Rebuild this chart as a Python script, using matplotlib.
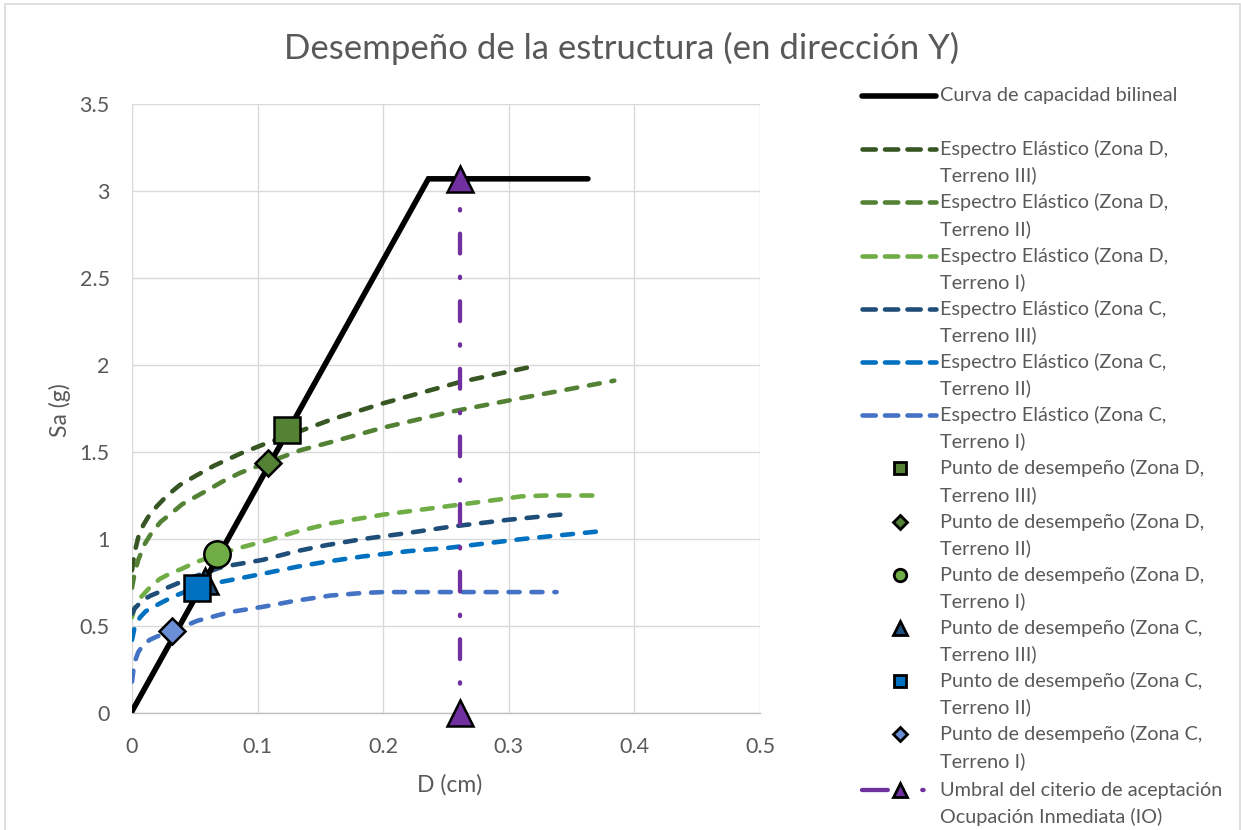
import matplotlib
matplotlib.use("Agg")
import matplotlib.pyplot as plt
from matplotlib.lines import Line2D
from matplotlib.patches import Rectangle

# ---------------- data ----------------
title = "Desempeño de la estructura (en dirección Y)"
x_label = "D (cm)"
y_label = "Sa (g)"
x_ticks = [0, 0.1, 0.2, 0.3, 0.4, 0.5]
y_ticks = [0, 0.5, 1, 1.5, 2, 2.5, 3, 3.5]

bilinear_x = [0, 0.236, 0.363]
bilinear_y = [0.01, 3.07, 3.07]

dIII_x = [0, 0.002, 0.005, 0.009, 0.014, 0.02, 0.028, 0.038, 0.05, 0.065, 0.086, 0.107, 0.13, 0.16, 0.2, 0.26, 0.318]
dIII_y = [0.82, 0.92, 1.01, 1.08, 1.14, 1.19, 1.25, 1.31, 1.36, 1.42, 1.49, 1.55, 1.61, 1.69, 1.78, 1.90, 1.99]

dII_x = [0, 0.002, 0.005, 0.01, 0.016, 0.023, 0.03, 0.04, 0.05, 0.06, 0.072, 0.086, 0.108, 0.134, 0.16, 0.2, 0.253, 0.31, 0.384]
dII_y = [0.72, 0.80, 0.88, 0.97, 1.04, 1.10, 1.14, 1.20, 1.24, 1.28, 1.33, 1.38, 1.44, 1.51, 1.56, 1.64, 1.73, 1.81, 1.91]

dI_x = [0, 0.002, 0.0064, 0.014, 0.022, 0.03, 0.04, 0.052, 0.068, 0.086, 0.107, 0.13, 0.158, 0.2, 0.253, 0.29, 0.31, 0.33, 0.37]
dI_y = [0.55, 0.60, 0.66, 0.72, 0.77, 0.80, 0.83, 0.87, 0.91, 0.95, 0.99, 1.04, 1.09, 1.14, 1.19, 1.225, 1.245, 1.25, 1.25]

cIII_x = [0, 0.002, 0.0088, 0.015, 0.02, 0.028, 0.038, 0.048, 0.06, 0.072, 0.088, 0.104, 0.131, 0.155, 0.184, 0.22, 0.253, 0.299, 0.341]
cIII_y = [0.57, 0.60, 0.65, 0.675, 0.69, 0.72, 0.75, 0.78, 0.81, 0.84, 0.86, 0.88, 0.93, 0.965, 1.00, 1.035, 1.07, 1.11, 1.14]

cII_x = [0, 0.002, 0.0064, 0.011, 0.017, 0.025, 0.033, 0.042, 0.052, 0.072, 0.09, 0.104, 0.131, 0.155, 0.184, 0.22, 0.253, 0.311, 0.375]
cII_y = [0.42, 0.49, 0.55, 0.585, 0.61, 0.64, 0.67, 0.695, 0.72, 0.755, 0.78, 0.80, 0.84, 0.87, 0.90, 0.93, 0.95, 1.00, 1.046]

cI_x = [0, 0.001, 0.0025, 0.005, 0.0088, 0.014, 0.02, 0.032, 0.042, 0.052, 0.065, 0.078, 0.104, 0.13, 0.158, 0.184, 0.2, 0.338]
cI_y = [0.18, 0.24, 0.30, 0.35, 0.39, 0.42, 0.44, 0.47, 0.50, 0.53, 0.555, 0.58, 0.61, 0.645, 0.675, 0.69, 0.695, 0.695]

perf_x = [0.1234, 0.108, 0.0677, 0.058, 0.0518, 0.0318]
perf_y = [1.626, 1.437, 0.913, 0.76, 0.718, 0.471]

io_x = [0.261, 0.261]
io_y = [3.07, 0.0]

spectra_labels = [
    "Espectro Elástico (Zona D,\nTerreno III)",
    "Espectro Elástico (Zona D,\nTerreno II)",
    "Espectro Elástico (Zona D,\nTerreno I)",
    "Espectro Elástico (Zona C,\nTerreno III)",
    "Espectro Elástico (Zona C,\nTerreno II)",
    "Espectro Elástico (Zona C,\nTerreno I)",
]
perf_labels = [
    "Punto de desempeño (Zona D,\nTerreno III)",
    "Punto de desempeño (Zona D,\nTerreno II)",
    "Punto de desempeño (Zona D,\nTerreno I)",
    "Punto de desempeño (Zona C,\nTerreno III)",
    "Punto de desempeño (Zona C,\nTerreno II)",
    "Punto de desempeño (Zona C,\nTerreno I)",
]
bilinear_label = "Curva de capacidad bilineal"
io_label = "Umbral del citerio de aceptación\nOcupación Inmediata (IO)"

# ---------------- style ----------------
FONT = "Lato"
TXT = "#595959"
GRID = "#D9D9D9"
spec_colors = ["#375623", "#548235", "#70AD47", "#1F4E79", "#0070C0", "#4472C4"]
perf_colors = ["#548235", "#548235", "#70AD47", "#1F4E79", "#0070C0", "#6A8FD6"]
perf_markers = ["s", "D", "o", "^", "s", "D"]
perf_sizes = [19, 13.5, 19, 19, 19, 13.5]
leg_sizes = [8.5, 7.5, 9, 9.5, 8.5, 7.5]
PURPLE = "#7030A0"
SPEC_LW = 3.3
SPEC_DASH = (0, (2.4, 2.6))
IO_LW = 3.1
IO_DASH = (3.0, (4.6, 5.4, 0.3, 5.4))

W, H = 1241, 830
plt.rcParams["font.family"] = [FONT, "DejaVu Sans"]
fig = plt.figure(figsize=(W / 100, H / 100), dpi=100)
fig.patch.set_facecolor("white")

def fx(px):
    return px / W

def fy(py):
    return 1 - py / H

ax = fig.add_axes([fx(132), fy(713), fx(760) - fx(132), fy(104) - fy(713)])
ax.set_xlim(0, 0.5)
ax.set_ylim(0, 3.5)
ax.set_xticks(x_ticks)
ax.set_yticks(y_ticks)
ax.set_xticklabels([f"{t:g}" for t in x_ticks])
ax.set_yticklabels([f"{t:g}" for t in y_ticks])
ax.tick_params(length=0, labelsize=15.5, labelcolor=TXT)
ax.tick_params(axis="x", pad=17)
ax.tick_params(axis="y", pad=16)
ax.grid(True, color=GRID, lw=1.0, zorder=0)
ax.set_axisbelow(True)
for s in ["top", "right", "left"]:
    ax.spines[s].set_visible(False)
ax.spines["bottom"].set_color("#BFBFBF")
ax.spines["bottom"].set_linewidth(1.0)

# spectra
spec_data = [(dIII_x, dIII_y), (dII_x, dII_y), (dI_x, dI_y),
             (cIII_x, cIII_y), (cII_x, cII_y), (cI_x, cI_y)]
for (xs, ys), c in zip(spec_data, spec_colors):
    ax.plot(xs, ys, color=c, lw=SPEC_LW, linestyle=SPEC_DASH,
            dash_capstyle="round", dash_joinstyle="round", zorder=2)

# bilinear
ax.plot(bilinear_x, bilinear_y, color="black", lw=4.0,
        solid_capstyle="round", solid_joinstyle="miter", zorder=3)

# IO threshold
ax.plot(io_x, io_y, color=PURPLE, lw=IO_LW, linestyle=IO_DASH,
        dash_capstyle="round", zorder=4)
ax.plot(io_x, io_y, linestyle="none", marker="^", ms=19, mfc=PURPLE,
        mec="black", mew=1.8, clip_on=False, zorder=6)

# performance points (triangle first so others sit on top)
order = [3, 0, 1, 2, 4, 5]
for i in order:
    ax.plot([perf_x[i]], [perf_y[i]], linestyle="none", marker=perf_markers[i],
            ms=perf_sizes[i], mfc=perf_colors[i], mec="black", mew=1.8,
            zorder=5)

# title and axis labels
fig.text(fx(622), fy(48), title, ha="center", va="center",
         fontsize=25, color=TXT)
fig.text(fx(60), fy(410), y_label, ha="center", va="center",
         rotation=90, fontsize=16.5, color=TXT)
fig.text(fx(450), fy(785), x_label, ha="center", va="center",
         fontsize=16.5, color=TXT)

# ---------------- manual legend ----------------
LX0, LX1, LXM, LTX = 862, 936, 900, 940
step = 53.2
first_y = 96

def add_text(label, y):
    lines = label.split("\n")
    for j, ln in enumerate(lines):
        fig.text(fx(LTX), fy(y + 26.5 * j), ln, ha="left", va="center",
                 fontsize=14.3, color=TXT)

# bilinear
y = first_y
fig.add_artist(Line2D([fx(LX0), fx(LX1)], [fy(y), fy(y)], color="black",
                      lw=4.0, solid_capstyle="round"))
add_text(bilinear_label, y)

for k, (lab, c) in enumerate(zip(spectra_labels, spec_colors)):
    y = first_y + step * (k + 1)
    fig.add_artist(Line2D([fx(LX0), fx(LX1)], [fy(y), fy(y)], color=c, lw=SPEC_LW,
                          linestyle=(0, (2.9, 2.0)), dash_capstyle="round"))
    add_text(lab, y)

for k, lab in enumerate(perf_labels):
    y = first_y + step * (k + 7)
    fig.add_artist(Line2D([fx(LXM)], [fy(y)], linestyle="none",
                          marker=perf_markers[k], ms=leg_sizes[k],
                          mfc=perf_colors[k], mec="black", mew=2.0))
    add_text(lab, y)

y = 790
fig.add_artist(Line2D([fx(LX0), fx(LX1)], [fy(y), fy(y)], color=PURPLE, lw=IO_LW,
                      linestyle=(0, (6.0, 3.2, 0.3, 4.5, 0.3, 6.0)),
                      dash_capstyle="round"))
fig.add_artist(Line2D([fx(LXM)], [fy(y)], linestyle="none", marker="^",
                      ms=9.5, mfc=PURPLE, mec="black", mew=2.0))
add_text(io_label, y)

# chart border
fig.add_artist(Rectangle((fx(4.5), fy(840)), fx(1239.5) - fx(4.5), fy(4.5) - fy(840),
                         fill=False, edgecolor=GRID, lw=1.2,
                         transform=fig.transFigure, clip_on=False))

fig.savefig("out.png", dpi=100)
